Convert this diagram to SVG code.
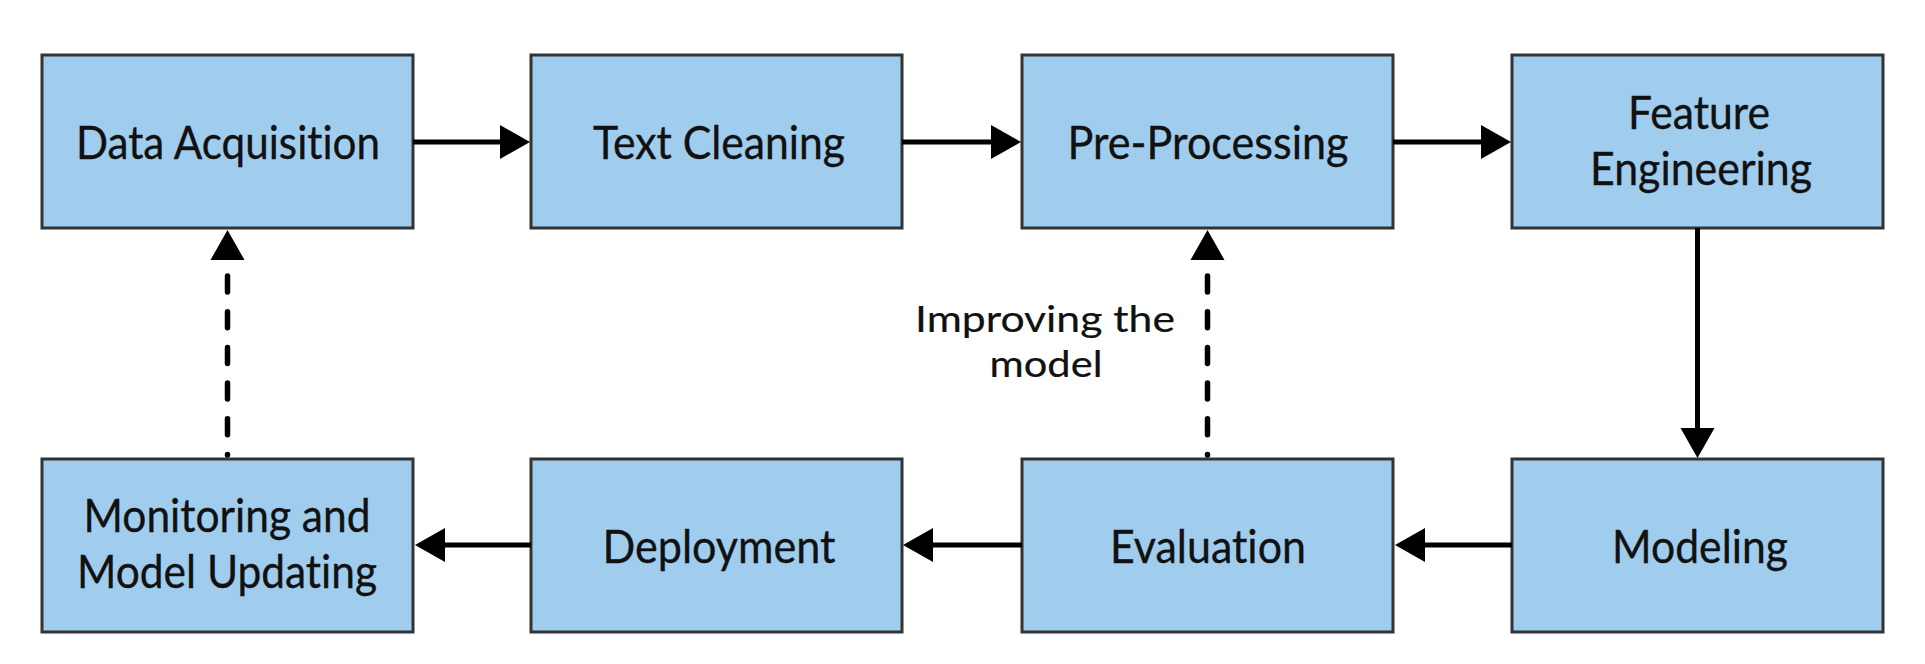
<svg xmlns="http://www.w3.org/2000/svg" width="1925" height="664" viewBox="0 0 1925 664">
  <defs>
    <style>
      .box { fill: #a0cdee; stroke: #333333; stroke-width: 3; }
      .label { font-family: Lato, "Noto Sans", "Liberation Sans", sans-serif; font-size: 46px; font-variant-ligatures: none; fill: #111111; stroke: #111111; stroke-width: 0.35; text-anchor: middle; }
      .note { font-family: Lato, "Noto Sans", "Liberation Sans", sans-serif; font-size: 37px; font-variant-ligatures: none; fill: #111111; stroke: #111111; stroke-width: 0.2; text-anchor: middle; }
      .flow { fill: none; stroke: #000000; stroke-width: 5; marker-end: url(#head); }
      .feedback { fill: none; stroke: #000000; stroke-width: 5.5; stroke-linecap: round; stroke-dasharray: 16 19.7; stroke-dashoffset: 18.7; marker-start: url(#head); }
    </style>
    <!-- triangular arrowhead; the line ends at the base of the triangle -->
    <marker id="head" markerUnits="userSpaceOnUse" markerWidth="32" markerHeight="36" viewBox="-1 -18 32 36" refX="1" refY="0" orient="auto-start-reverse">
      <path d="M0,-17 L30,0 L0,17 Z" fill="#000000" stroke="none"/>
    </marker>
  </defs>

  <rect width="1925" height="664" fill="#ffffff"/>

  <!-- top row -->
  <g id="data-acquisition">
    <rect class="box" x="42" y="55" width="371" height="173"/>
    <text class="label" x="228" y="159" textLength="304" lengthAdjust="spacingAndGlyphs">Data Acquisition</text>
  </g>
  <g id="text-cleaning">
    <rect class="box" x="531" y="55" width="371" height="173"/>
    <text class="label" x="719" y="159" textLength="252" lengthAdjust="spacingAndGlyphs">Text Cleaning</text>
  </g>
  <g id="pre-processing">
    <rect class="box" x="1022" y="55" width="371" height="173"/>
    <text class="label" x="1208" y="159" textLength="281" lengthAdjust="spacingAndGlyphs">Pre-Processing</text>
  </g>
  <g id="feature-engineering">
    <rect class="box" x="1512" y="55" width="371" height="173"/>
    <text class="label" x="1699" y="129" textLength="142" lengthAdjust="spacingAndGlyphs">Feature</text>
    <text class="label" x="1701" y="185" textLength="222" lengthAdjust="spacingAndGlyphs">Engineering</text>
  </g>

  <!-- bottom row -->
  <g id="monitoring">
    <rect class="box" x="42" y="459" width="371" height="173"/>
    <text class="label" x="227" y="532" textLength="287" lengthAdjust="spacingAndGlyphs">Monitoring and</text>
    <text class="label" x="227" y="588" textLength="300" lengthAdjust="spacingAndGlyphs">Model Updating</text>
  </g>
  <g id="deployment">
    <rect class="box" x="531" y="459" width="371" height="173"/>
    <text class="label" x="719" y="563" textLength="233" lengthAdjust="spacingAndGlyphs">Deployment</text>
  </g>
  <g id="evaluation">
    <rect class="box" x="1022" y="459" width="371" height="173"/>
    <text class="label" x="1208" y="563" textLength="196" lengthAdjust="spacingAndGlyphs">Evaluation</text>
  </g>
  <g id="modeling">
    <rect class="box" x="1512" y="459" width="371" height="173"/>
    <text class="label" x="1700" y="563" textLength="176" lengthAdjust="spacingAndGlyphs">Modeling</text>
  </g>

  <!-- connectors -->
  <g id="connectors">
    <path class="flow" d="M413,142 H501"/>
    <path class="flow" d="M902,142 H992"/>
    <path class="flow" d="M1393,142 H1482"/>
    <path class="flow" d="M1697.5,228 V429"/>
    <path class="flow" d="M1512,545 H1424"/>
    <path class="flow" d="M1022,545 H932"/>
    <path class="flow" d="M531,545 H444"/>
    <path class="feedback" d="M227.5,259 V455"/>
    <path class="feedback" d="M1207.5,259 V455"/>
  </g>

  <g id="improving-note">
    <text class="note" x="1045" y="332" textLength="260" lengthAdjust="spacingAndGlyphs">Improving the</text>
    <text class="note" x="1046" y="377" textLength="113" lengthAdjust="spacingAndGlyphs">model</text>
  </g>
</svg>
